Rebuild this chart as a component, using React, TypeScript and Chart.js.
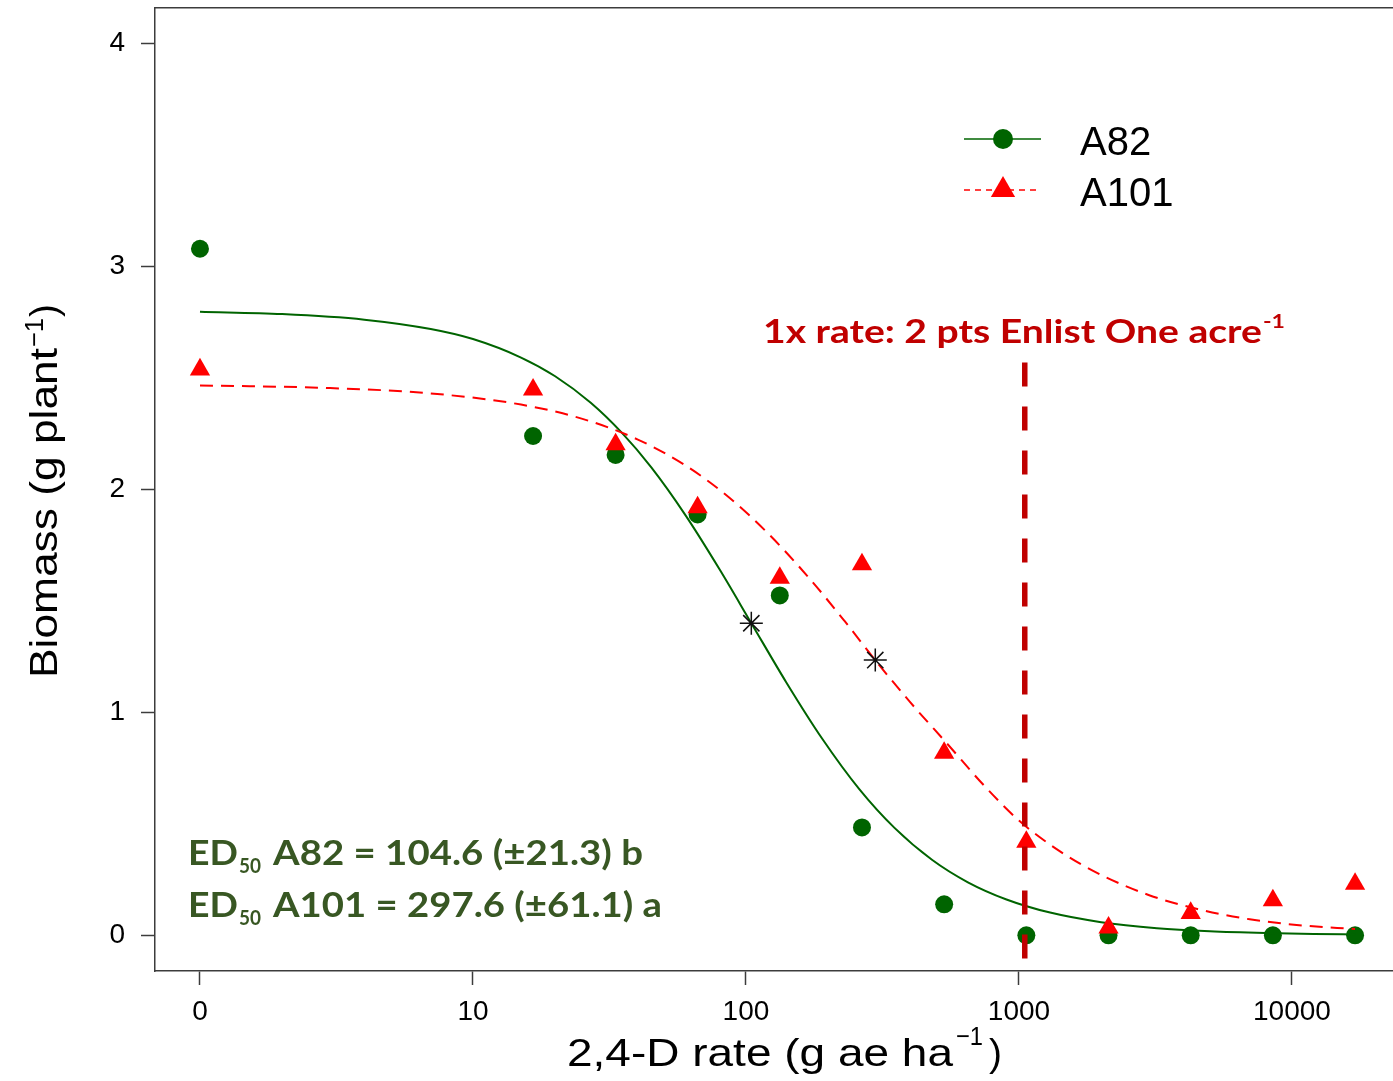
import React, { useEffect, useRef } from "react";
import { Chart, registerables } from "chart.js";

Chart.register(...registerables);

// ---------------- data ----------------
const seriesNames = ["A82", "A101"];
const doses = [0, 16.6, 33.3, 66.5, 133, 266, 532, 1064, 2128, 4256, 8512, 17024];
const zeroDosePlottedAt = 1; // the "0" rate sits at 1 on the log axis
const a82Biomass = [3.08, 2.24, 2.155, 1.888, 1.525, 0.484, 0.139, 0, 0, 0, 0, 0];
const a101Biomass = [2.538, 2.448, 2.202, 1.92, 1.603, 1.664, 0.818, 0.419, 0.034, 0.1, 0.157, 0.231];

const a82CurveDoses = [1, 2, 4, 7, 10, 15, 20, 27, 35, 45, 60, 80, 105, 140, 190, 260, 350, 480, 650, 900, 1300, 2000, 3200, 5000, 8000, 12000, 17024];
const a82CurveBiomass = [2.797, 2.787, 2.762, 2.72, 2.675, 2.592, 2.508, 2.389, 2.256, 2.099, 1.885, 1.642, 1.397, 1.138, 0.883, 0.656, 0.482, 0.339, 0.238, 0.161, 0.102, 0.059, 0.032, 0.018, 0.01, 0.006, 0.004];

const a101CurveDoses = [1, 3, 7, 15, 25, 40, 60, 85, 120, 170, 230, 300, 400, 550, 750, 1000, 1400, 2000, 3000, 4500, 7000, 11000, 17024];
const a101CurveBiomass = [2.467, 2.455, 2.431, 2.381, 2.318, 2.225, 2.108, 1.973, 1.805, 1.604, 1.409, 1.229, 1.045, 0.855, 0.668, 0.515, 0.38, 0.271, 0.18, 0.118, 0.072, 0.044, 0.028];

const ed50Doses = [104.6, 297.6];
const ed50Biomass = [1.4, 1.235];

const oneXRateDose = 1050;
const oneXRateSpan = [2.57, -0.16];

const xTickValues = [1, 10, 100, 1000, 10000];
const xTickLabels = ["0", "10", "100", "1000", "10000"];
const yTickValues = [0, 1, 2, 3, 4];

const ed50Lines = ["A82 = 104.6 (\u00b121.3) b", "A101 = 297.6 (\u00b161.1) a"];
const rateNote = "1x rate: 2 pts Enlist One acre";

// ---------------- styling ----------------
const GREEN = "#006400";
const RED = "#ff0000";
const DARKRED = "#c00000";
const OLIVE = "#385723";
const AXIS = "#3c3c3c";
const SANS = '"Liberation Sans", Arial, sans-serif';
const CAL = 'Lato, "Open Sans", sans-serif';

const pos = (d: number) => (d === 0 ? zeroDosePlottedAt : d);

function fitText(ctx: CanvasRenderingContext2D, text: string, x: number, y: number, width?: number) {
  if (width === undefined) {
    ctx.fillText(text, x, y);
    return;
  }
  const w = ctx.measureText(text).width;
  ctx.save();
  ctx.translate(x, y);
  ctx.scale(width / w, 1);
  ctx.fillText(text, 0, 0);
  ctx.restore();
}

const zeroPadding = (s: any) => {
  s.paddingTop = 0;
  s.paddingBottom = 0;
  s.paddingLeft = 0;
  s.paddingRight = 0;
};

const textPlugin = {
  id: "textLayer",
  afterDraw(chart: any) {
    const ctx: CanvasRenderingContext2D = chart.ctx;
    ctx.save();
    ctx.textAlign = "left";
    ctx.textBaseline = "alphabetic";

    // ---- legend ----
    ctx.strokeStyle = GREEN;
    ctx.lineWidth = 1.6;
    ctx.setLineDash([]);
    ctx.beginPath();
    ctx.moveTo(964, 139);
    ctx.lineTo(1041, 139);
    ctx.stroke();
    ctx.fillStyle = GREEN;
    ctx.beginPath();
    ctx.arc(1003, 139, 10, 0, Math.PI * 2);
    ctx.fill();

    ctx.strokeStyle = RED;
    ctx.lineWidth = 1.6;
    ctx.setLineDash([6, 5]);
    ctx.beginPath();
    ctx.moveTo(964, 190);
    ctx.lineTo(1039, 190);
    ctx.stroke();
    ctx.setLineDash([]);
    ctx.fillStyle = RED;
    const r = 14;
    ctx.beginPath();
    ctx.moveTo(1003, 190 - r);
    ctx.lineTo(1003 + r * 0.866, 190 + r / 2);
    ctx.lineTo(1003 - r * 0.866, 190 + r / 2);
    ctx.closePath();
    ctx.fill();

    ctx.fillStyle = "#000";
    ctx.font = `40px ${SANS}`;
    fitText(ctx, seriesNames[0], 1080, 155);
    fitText(ctx, seriesNames[1], 1080, 206);

    // ---- 1x rate note ----
    ctx.fillStyle = DARKRED;
    ctx.font = `bold 33px ${CAL}`;
    fitText(ctx, rateNote, 763, 343, 499);
    ctx.font = `bold 18px ${CAL}`;
    fitText(ctx, "-1", 1263, 328, 22);

    // ---- ED50 text ----
    ctx.fillStyle = OLIVE;
    const bases = [865, 917];
    const widths = [370, 389];
    ed50Lines.forEach((line, i) => {
      ctx.font = `bold 35px ${CAL}`;
      fitText(ctx, "ED", 188, bases[i], 50);
      ctx.font = `bold 21px ${CAL}`;
      fitText(ctx, "50", 239, bases[i] + 8, 22);
      ctx.font = `bold 35px ${CAL}`;
      fitText(ctx, line, 273, bases[i], widths[i]);
    });

    // ---- axis titles ----
    ctx.fillStyle = "#000";
    ctx.font = `39px ${SANS}`;
    fitText(ctx, "2,4-D rate (g ae ha", 567, 1066, 386);
    ctx.font = `26px ${SANS}`;
    fitText(ctx, "\u22121", 956, 1045, 27);
    ctx.font = `39px ${SANS}`;
    fitText(ctx, ")", 989, 1066);

    ctx.save();
    ctx.translate(57, 678);
    ctx.rotate(-Math.PI / 2);
    ctx.font = `39px ${SANS}`;
    fitText(ctx, "Biomass (g plant", 0, 0, 330);
    ctx.font = `26px ${SANS}`;
    fitText(ctx, "\u22121", 331, -14, 29);
    ctx.font = `39px ${SANS}`;
    fitText(ctx, ")", 361, 0);
    ctx.restore();

    ctx.restore();
  },
};

export default function App() {
  const ref = useRef<HTMLCanvasElement | null>(null);

  useEffect(() => {
    if (!ref.current) return;
    const chart = new Chart(ref.current, {
      type: "scatter",
      data: {
        datasets: [
          {
            label: seriesNames[0],
            data: doses.map((d, i) => ({ x: pos(d), y: a82Biomass[i] })),
            pointStyle: "circle",
            pointRadius: 9,
            pointBackgroundColor: GREEN,
            pointBorderWidth: 0,
            showLine: false,
            order: 6,
          },
          {
            label: seriesNames[0] + " fit",
            data: a82CurveDoses.map((d, i) => ({ x: d, y: a82CurveBiomass[i] })),
            showLine: true,
            borderColor: GREEN,
            borderWidth: 2,
            pointRadius: 0,
            cubicInterpolationMode: "monotone",
            order: 5,
          },
          {
            label: seriesNames[1],
            data: doses.map((d, i) => ({ x: pos(d), y: a101Biomass[i] })),
            pointStyle: "triangle",
            pointRadius: 11.7,
            pointBackgroundColor: RED,
            pointBorderWidth: 0,
            showLine: false,
            order: 4,
          },
          {
            label: seriesNames[1] + " fit",
            data: a101CurveDoses.map((d, i) => ({ x: d, y: a101CurveBiomass[i] })),
            showLine: true,
            borderColor: RED,
            borderWidth: 2,
            borderDash: [13, 8],
            pointRadius: 0,
            cubicInterpolationMode: "monotone",
            order: 3,
          },
          {
            label: "ED50",
            data: ed50Doses.map((d, i) => ({ x: d, y: ed50Biomass[i] })),
            pointStyle: "star",
            pointRadius: 11.5,
            pointBorderColor: "#111",
            pointBorderWidth: 1.5,
            pointBackgroundColor: "#111",
            showLine: false,
            order: 2,
          },
          {
            label: "1x rate",
            data: oneXRateSpan.map((y) => ({ x: oneXRateDose, y })),
            showLine: true,
            borderColor: DARKRED,
            borderWidth: 5.5,
            borderDash: [24, 20],
            pointRadius: 0,
            order: 1,
          },
        ],
      },
      options: {
        responsive: false,
        maintainAspectRatio: false,
        animation: false,
        events: [],
        layout: { autoPadding: false, padding: { left: 0, right: 9, top: 0, bottom: 0 } },
        plugins: {
          legend: { display: false },
          tooltip: { enabled: false },
        },
        scales: {
          x: {
            type: "logarithmic",
            position: "bottom",
            min: 0.6843,
            max: 25080,
            bounds: "data",
            afterBuildTicks: (s: any) => {
              s.ticks = xTickValues.map((v) => ({ value: v }));
            },
            afterFit: (s: any) => {
              s.height = 110;
              zeroPadding(s);
            },
            ticks: {
              autoSkip: false,
              maxRotation: 0,
              padding: 10,
              color: "#000",
              font: { family: SANS, size: 28 },
              callback: (v: any) => {
                const i = xTickValues.indexOf(Number(v));
                return i >= 0 ? xTickLabels[i] : "";
              },
            },
            grid: {
              display: true,
              drawOnChartArea: false,
              drawTicks: true,
              tickLength: 14,
              tickColor: AXIS,
              tickWidth: 1.5,
            },
            border: { display: true, color: AXIS, width: 1.5 },
          },
          x2: {
            type: "linear",
            axis: "x",
            position: "top",
            min: 0,
            max: 1,
            ticks: { display: false },
            grid: { display: false, drawTicks: false },
            border: { display: true, color: AXIS, width: 1.5 },
            afterFit: (s: any) => {
              s.height = 8;
              zeroPadding(s);
            },
          },
          y: {
            type: "linear",
            position: "left",
            min: -0.16,
            max: 4.16,
            bounds: "data",
            afterBuildTicks: (s: any) => {
              s.ticks = yTickValues.map((v) => ({ value: v }));
            },
            afterFit: (s: any) => {
              s.width = 155;
              zeroPadding(s);
            },
            ticks: {
              padding: 16,
              color: "#000",
              font: { family: SANS, size: 28 },
              callback: (v: any) => String(v),
            },
            grid: {
              display: true,
              drawOnChartArea: false,
              drawTicks: true,
              tickLength: 14,
              tickColor: AXIS,
              tickWidth: 1.5,
            },
            border: { display: true, color: AXIS, width: 1.5 },
          },
        },
      },
      plugins: [textPlugin],
    } as any);
    return () => chart.destroy();
  }, []);

  return (
    <div
      style={{
        position: "fixed",
        left: 0,
        top: 0,
        width: 1393,
        height: 1081,
        overflow: "hidden",
        background: "#fff",
      }}
    >
      <canvas ref={ref} width={1410} height={1081} style={{ display: "block", width: 1410, height: 1081 }} />
    </div>
  );
}
